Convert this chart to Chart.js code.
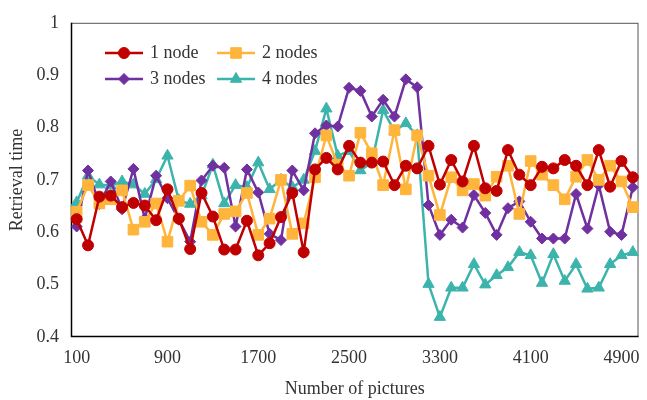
<!DOCTYPE html>
<html lang="en">
<head>
    <meta charset="UTF-8">
    <title>Retrieval time vs number of pictures</title>
    <script src="https://cdn.jsdelivr.net/npm/chart.js@4.4.1/dist/chart.umd.min.js"></script>
    <style>
        html, body { margin: 0; padding: 0; background: #fff; }
        #wrap { width: 647px; height: 400px; }
    </style>
</head>
<body>
    <div id="wrap"><canvas id="chart" width="647" height="400"></canvas></div>
    <script>
        // number of pictures: 100, 200, ... 5000
        const pictures = [];
        for (let n = 100; n <= 5000; n += 100) pictures.push(n);

        const seriesNames = ['1 node', '2 nodes', '3 nodes', '4 nodes'];

        const node1 = [0.625, 0.575, 0.668, 0.670, 0.648, 0.656, 0.651, 0.623, 0.682, 0.626,
                       0.568, 0.675, 0.630, 0.567, 0.567, 0.622, 0.556, 0.579, 0.629, 0.675,
                       0.562, 0.720, 0.742, 0.720, 0.765, 0.733, 0.733, 0.735, 0.690, 0.727,
                       0.722, 0.765, 0.691, 0.738, 0.697, 0.765, 0.684, 0.679, 0.757, 0.710,
                       0.690, 0.725, 0.722, 0.738, 0.727, 0.690, 0.757, 0.687, 0.736, 0.705];

        const node2 = [0.639, 0.690, 0.655, 0.663, 0.680, 0.605, 0.620, 0.655, 0.582, 0.660,
                       0.689, 0.620, 0.595, 0.635, 0.640, 0.675, 0.595, 0.626, 0.700, 0.597,
                       0.617, 0.705, 0.785, 0.729, 0.708, 0.790, 0.751, 0.690, 0.795, 0.682,
                       0.785, 0.708, 0.633, 0.705, 0.680, 0.692, 0.670, 0.706, 0.727, 0.635,
                       0.736, 0.710, 0.690, 0.663, 0.706, 0.738, 0.700, 0.727, 0.697, 0.648];

        const node3 = [0.611, 0.718, 0.654, 0.697, 0.644, 0.721, 0.626, 0.708, 0.665, 0.624,
                       0.582, 0.699, 0.727, 0.723, 0.611, 0.720, 0.676, 0.597, 0.585, 0.718,
                       0.680, 0.789, 0.804, 0.802, 0.876, 0.870, 0.821, 0.853, 0.821, 0.892,
                       0.877, 0.652, 0.595, 0.624, 0.609, 0.671, 0.637, 0.595, 0.646, 0.659,
                       0.620, 0.588, 0.588, 0.588, 0.673, 0.607, 0.690, 0.601, 0.595, 0.686];

        const node4 = [0.657, 0.708, 0.691, 0.689, 0.697, 0.691, 0.673, 0.701, 0.746, 0.661,
                       0.654, 0.670, 0.729, 0.655, 0.690, 0.686, 0.733, 0.682, 0.700, 0.686,
                       0.700, 0.755, 0.836, 0.746, 0.755, 0.718, 0.733, 0.833, 0.793, 0.808,
                       0.785, 0.501, 0.438, 0.494, 0.494, 0.539, 0.500, 0.518, 0.533, 0.562,
                       0.556, 0.503, 0.558, 0.507, 0.539, 0.492, 0.494, 0.539, 0.556, 0.562];

        const colors = ['#C00000', '#FFB43C', '#7030A0', '#3CB4AC'];
        const shapes = ['circle', 'rect', 'rectRot', 'triangle'];
        const radii = [5.5, 7.5, 5.5, 6.5];
        const serif = "'Liberation Serif', 'Times New Roman', serif";
        const textColor = '#333333';

        // legend drawn inside the plot, two columns like the original
        const insideLegend = {
            id: 'insideLegend',
            afterDatasetsDraw(chart) {
                const ctx = chart.ctx;
                const spots = [[105, 53], [217, 53], [105, 79], [217, 79]];
                ctx.save();
                chart.data.datasets.forEach((ds, i) => {
                    const [x, y] = spots[i];
                    ctx.strokeStyle = ds.borderColor;
                    ctx.lineWidth = 2.5;
                    ctx.beginPath();
                    ctx.moveTo(x, y);
                    ctx.lineTo(x + 38, y);
                    ctx.stroke();
                    ctx.fillStyle = ds.pointBackgroundColor;
                    ctx.strokeStyle = ds.pointBorderColor;
                    ctx.lineWidth = 1;
                    Chart.helpers.drawPoint(ctx, {
                        pointStyle: ds.pointStyle, radius: ds.pointRadius, rotation: 0, borderWidth: 1
                    }, x + 19, y);
                    ctx.fillStyle = textColor;
                    ctx.font = '18px ' + serif;
                    ctx.textBaseline = 'middle';
                    ctx.textAlign = 'left';
                    ctx.fillText(ds.label, x + 45, y);
                });
                ctx.restore();
            }
        };

        const plotBorder = {
            id: 'plotBorder',
            beforeDatasetsDraw(chart) {
                const a = chart.chartArea;
                const ctx = chart.ctx;
                ctx.save();
                ctx.strokeStyle = '#555555';
                ctx.lineWidth = 1;
                ctx.strokeRect(a.left + 0.5, a.top + 0.5, a.right - a.left - 1, a.bottom - a.top - 1);
                ctx.strokeStyle = '#000000';
                ctx.lineWidth = 1.5;
                ctx.beginPath();
                ctx.moveTo(a.left + 0.5, a.top);
                ctx.lineTo(a.left + 0.5, a.bottom - 0.5);
                ctx.lineTo(a.right, a.bottom - 0.5);
                ctx.stroke();
                ctx.restore();
            }
        };

        const allSeries = [node1, node2, node3, node4];
        const datasets = allSeries.map((vals, i) => ({
            label: seriesNames[i],
            data: vals,
            borderColor: colors[i],
            backgroundColor: colors[i],
            pointBackgroundColor: colors[i],
            pointBorderColor: colors[i],
            pointStyle: shapes[i],
            pointRadius: radii[i],
            pointBorderWidth: 1,
            borderWidth: 2.5,
            tension: 0,
            fill: false
        }));

        const ctx = document.getElementById('chart').getContext('2d');
        const myChart = new Chart(ctx, {
            type: 'line',
            data: { labels: pictures, datasets: datasets },
            plugins: [plotBorder, insideLegend],
            options: {
                responsive: false,
                animation: false,
                layout: { padding: { top: 17, right: 1, left: 6, bottom: 0 } },
                plugins: { legend: { display: false }, tooltip: { enabled: false } },
                scales: {
                    x: {
                        type: 'category',
                        offset: true,
                        grid: { display: false, drawTicks: false },
                        border: { display: false },
                        ticks: {
                            autoSkip: false,
                            maxRotation: 0,
                            padding: 10,
                            color: textColor,
                            font: { family: serif, size: 18 },
                            callback: function (val, idx) {
                                return idx % 8 === 0 ? this.getLabelForValue(val) : '';
                            }
                        },
                        title: {
                            display: true,
                            text: 'Number of pictures',
                            color: textColor,
                            font: { family: serif, size: 18 },
                            padding: 0
                        },
                        afterFit(scale) { scale.height = 63; }
                    },
                    y: {
                        min: 0.4,
                        max: 1,
                        grid: { display: false, drawTicks: false },
                        border: { display: false },
                        ticks: {
                            stepSize: 0.1,
                            padding: 12,
                            color: textColor,
                            font: { family: serif, size: 18 },
                            callback: v => String(Math.round(v * 10) / 10)
                        },
                        title: {
                            display: true,
                            text: 'Retrieval time',
                            color: textColor,
                            font: { family: serif, size: 18 },
                            padding: 0
                        },
                        afterFit(scale) { scale.width = 65; }
                    }
                }
            }
        });
    </script>
</body>
</html>
